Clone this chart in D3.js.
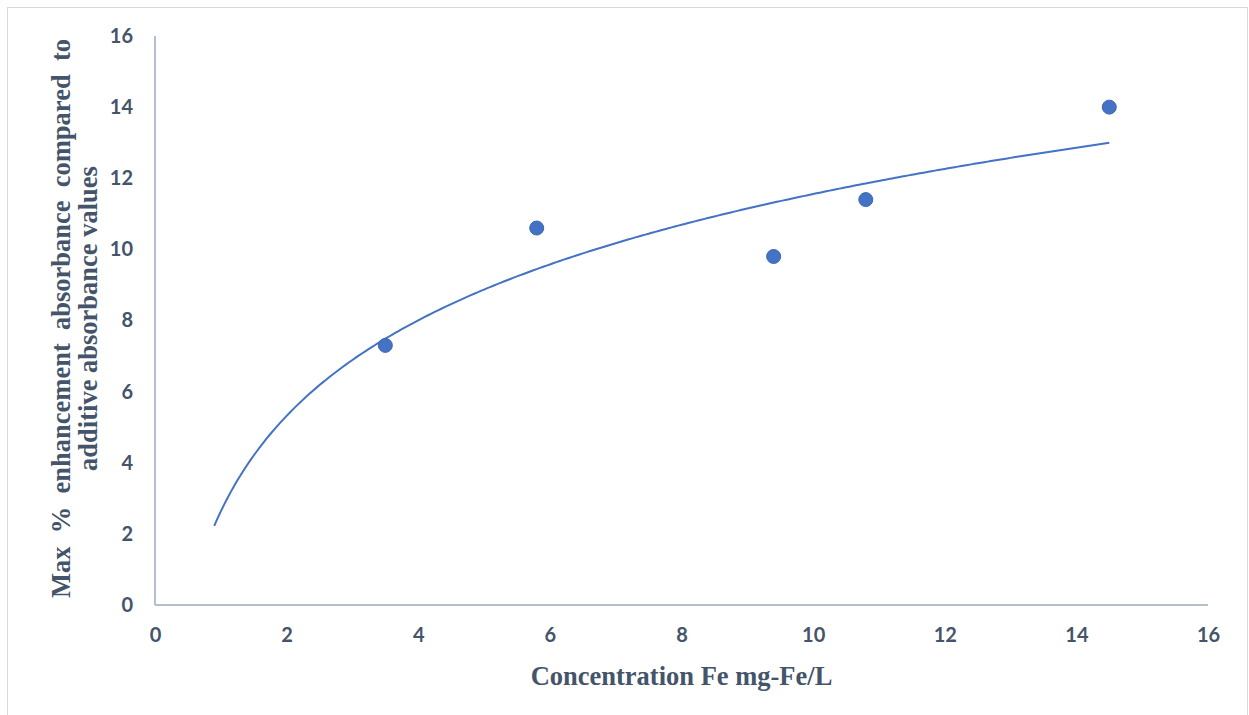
<!DOCTYPE html>
<html>
<head>
<meta charset="utf-8">
<script src="https://cdn.jsdelivr.net/npm/d3@7"></script>
<style>
  body { margin: 0; background: #fff; }
  .tick text { font-family: Lato, "Open Sans", sans-serif; font-weight: bold; font-size: 20px; fill: #44546a; }
  .axTitle { font-family: "Liberation Serif", "Times New Roman", serif; font-weight: bold; fill: #44546a; }
</style>
</head>
<body>
<div id="chart"></div>
<script>
// data
var concFe = [3.5, 5.8, 9.4, 10.8, 14.5];
var enhancement = [7.3, 10.6, 9.8, 11.4, 14.0];
var xTicks = [0, 2, 4, 6, 8, 10, 12, 14, 16];
var yTicks = [0, 2, 4, 6, 8, 10, 12, 14, 16];
var trendStart = 0.9;

var width = 1249, height = 715;
var plotLeft = 155, plotRight = 1208, plotTop = 36, plotBottom = 605;

var svg = d3.select("#chart").append("svg")
  .attr("width", width)
  .attr("height", height);

// outer frame
svg.append("rect")
  .attr("x", 7.5).attr("y", 7.5)
  .attr("width", 1240).attr("height", 720)
  .attr("fill", "none")
  .attr("stroke", "#d9d9d9")
  .attr("stroke-width", 1);

var xScale = d3.scaleLinear().domain([0, 16]).range([plotLeft, plotRight]);
var yScale = d3.scaleLinear().domain([0, 16]).range([plotBottom, plotTop]);

var xAxis = d3.axisBottom(xScale).tickValues(xTicks).tickSize(0).tickPadding(23);
var yAxis = d3.axisLeft(yScale).tickValues(yTicks).tickSize(0).tickPadding(22);

svg.append("g")
  .attr("transform", "translate(0," + plotBottom + ")")
  .call(xAxis);
svg.append("g")
  .attr("transform", "translate(" + plotLeft + ",0)")
  .call(yAxis);

svg.selectAll(".domain").remove();

// axis lines
svg.append("line")
  .attr("x1", plotLeft).attr("x2", plotLeft)
  .attr("y1", yScale(16)).attr("y2", yScale(0))
  .attr("stroke", "#b4bfd0").attr("stroke-width", 2);
svg.append("line")
  .attr("x1", xScale(0)).attr("x2", xScale(16))
  .attr("y1", plotBottom).attr("y2", plotBottom)
  .attr("stroke", "#b4bfd0").attr("stroke-width", 2);

// logarithmic trendline, least squares fit on ln(x)
var lx = concFe.map(function(d) { return Math.log(d); });
var mx = d3.mean(lx), my = d3.mean(enhancement);
var sxy = d3.sum(lx, function(d, i) { return (d - mx) * (enhancement[i] - my); });
var sxx = d3.sum(lx, function(d) { return (d - mx) * (d - mx); });
var slope = sxy / sxx;
var intercept = my - slope * mx;

var trendX = d3.range(trendStart, d3.max(concFe) + 0.0001, 0.05);
var line = d3.line()
  .x(function(d) { return xScale(d); })
  .y(function(d) { return yScale(intercept + slope * Math.log(d)); });

svg.append("path")
  .datum(trendX)
  .attr("d", line)
  .attr("fill", "none")
  .attr("stroke", "#4472c4")
  .attr("stroke-width", 2);

// points
svg.selectAll("circle.pt")
  .data(concFe)
  .enter()
  .append("circle")
  .attr("class", "pt")
  .attr("cx", function(d) { return xScale(d); })
  .attr("cy", function(d, i) { return yScale(enhancement[i]); })
  .attr("r", 7)
  .attr("fill", "#4472c4")
  .attr("stroke", "#3d67b3")
  .attr("stroke-width", 1);

// axis titles
svg.append("text")
  .attr("class", "axTitle")
  .attr("x", (plotLeft + plotRight) / 2)
  .attr("y", 685)
  .attr("text-anchor", "middle")
  .attr("font-size", 26.5)
  .text("Concentration Fe mg-Fe/L");

var yt = svg.append("text")
  .attr("class", "axTitle")
  .attr("transform", "translate(0," + ((plotTop + plotBottom) / 2 - 2) + ")rotate(-90)")
  .attr("text-anchor", "middle")
  .attr("font-size", 26.5);
yt.append("tspan").attr("x", 0).attr("y", 70).attr("xml:space", "preserve").text("Max  %  enhancement  absorbance  compared  to");
yt.append("tspan").attr("x", 0).attr("y", 97).text("additive absorbance values");
</script>
</body>
</html>
